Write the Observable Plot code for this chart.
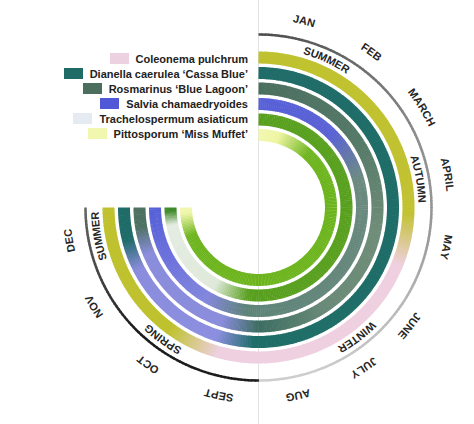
<!DOCTYPE html>
<html><head><meta charset="utf-8">
<script src="https://cdn.jsdelivr.net/npm/d3@7"></script>
<script src="https://cdn.jsdelivr.net/npm/@observablehq/plot@0.6"></script>
<style>
body{margin:0;background:#fff;}
#wrap{position:relative;width:474px;height:424px;font-family:"Liberation Sans",Arial,sans-serif;}
#legend{position:absolute;right:226px;top:51px;font-weight:bold;font-size:11px;color:#222;}
.row{display:flex;justify-content:flex-end;align-items:center;height:15px;white-space:nowrap;}
.sw{width:19px;height:11px;margin-right:7px;}
</style></head><body>
<div id="wrap"><div id="chart"></div><div id="legend"></div></div>
<script>
// ---- data ----
const months = ["JAN","FEB","MARCH","APRIL","MAY","JUNE","JULY","AUG","SEPT","OCT","NOV","DEC"];
const monthLabelPos = [0.61, 1.6, 2.6, 3.56, 4.53, 5.69, 6.52, 7.47, 8.53, 9.56, 10.62, 11.56]; // in months from Jan start
const seasons = ["SUMMER","AUTUMN","WINTER","SPRING","SUMMER"];
const seasonPos = [1.1, 3.55, 6.35, 9.6, 11.55];
const species = ["Coleonema pulchrum","Dianella caerulea \u2018Cassa Blue\u2019","Rosmarinus \u2018Blue Lagoon\u2019","Salvia chamaedryoides","Trachelospermum asiaticum","Pittosporum \u2018Miss Muffet\u2019"];
const swatchColors = ["#ecd2e0","#1f6c66","#4c6e5e","#5058d8","#e6ebf2","#f2f7b0"];
// colour stops along the year [month position, colour]
const coleonemaStops = [[0,"#bfc22e"],[4.1,"#c2c232"],[5.0,"#efd0e0"],[8.7,"#eed0e0"],[9.6,"#bfc22e"],[12,"#bfc22e"]];
const dianellaStops = [[0,"#1f6c68"],[8.1,"#1f6e68"],[8.8,"#8c8ee0"],[10.8,"#8a8cdc"],[11.4,"#1f6c68"],[12,"#1f6c68"]];
const rosmarinusStops = [[0,"#4b6f5f"],[2.5,"#557968"],[4.5,"#6f8d78"],[6.5,"#6a8a78"],[8.0,"#3d6e62"],[8.8,"#8a8cdc"],[11.0,"#8a8cdc"],[11.6,"#4d7262"],[12,"#4d7262"]];
const salviaStops = [[0,"#5860d8"],[2.0,"#5a62d4"],[3.3,"#6c8a80"],[8.3,"#5e8478"],[9.3,"#8286dc"],[10.8,"#6a70dc"],[12,"#5560d6"]];
const trachelospermumStops = [[0,"#58a01e"],[8.3,"#58a01e"],[9.3,"#dfe9da"],[11.5,"#e4ece2"],[11.9,"#3f8a2a"],[12,"#3f8a2a"]];
const pittosporumStops = [[0,"#f2f7b0"],[0.7,"#eef5a0"],[1.9,"#6cb41c"],[11.0,"#6cb41c"],[11.8,"#eef5a8"],[12,"#f2f7b0"]];
const monthRingStops = [[0,"#4a4a4a"],[1.5,"#6a6a6a"],[3,"#8e8e8e"],[4.5,"#9a9a9a"],[5.5,"#b8b8b8"],[7,"#cccccc"],[8,"#cfcfcf"],[8.001,"#1c1c1c"],[10,"#1c1c1c"],[11,"#444444"],[12,"#666666"]];
const ringStops = [coleonemaStops, dianellaStops, rosmarinusStops, salviaStops, trachelospermumStops, pittosporumStops];

// ---- geometry helpers ----
const FONT = "Liberation Sans";
const LABEL_SIZE = 11;
const toRad = m => m / 12 * 1.5 * Math.PI;
const px = (r, m) => r * Math.sin(toRad(m));
const py = (r, m) => r * Math.cos(toRad(m));
function colorAt(stops, m) {
  for (let i = 0; i < stops.length - 1; i++) {
    const [a, ca] = stops[i], [b, cb] = stops[i + 1];
    if (m >= a && m <= b) return d3.interpolateRgb(ca, cb)(b === a ? 0 : (m - a) / (b - a));
  }
  return stops[stops.length - 1][1];
}
function arcSegments(stops, r) {
  const out = [], step = 0.05;
  for (let m = 0; m < 12 - 1e-9; m += step) {
    const a0 = Math.max(0, m - 0.006), a1 = Math.min(12, m + step + 0.006);
    out.push({x1: px(r, a0), y1: py(r, a0), x2: px(r, a1), y2: py(r, a1), c: colorAt(stops, m + step / 2)});
  }
  return out;
}
const segs = [];
ringStops.forEach((s, k) => segs.push(...arcSegments(s, 150 - 15.5 * k)));
const monthSegs = arcSegments(monthRingStops, 173);

// curved text: place each character along the arc
const ctx = document.createElement("canvas").getContext("2d");
ctx.font = `bold ${LABEL_SIZE}px "${FONT}"`;
function curvedChars(label, m, r, spacing) {
  const ws = [...label].map(ch => ctx.measureText(ch).width + spacing);
  const total = d3.sum(ws) - spacing;
  let acc = -total / 2;
  const thetaC = toRad(m);
  return [...label].map((ch, i) => {
    const s = acc + (ws[i] - spacing) / 2; acc += ws[i];
    const th = thetaC + s / r;
    return {x: r * Math.sin(th), y: r * Math.cos(th), t: ch, rot: th * 180 / Math.PI};
  });
}
const monthChars = months.flatMap((mo, i) => curvedChars(mo, monthLabelPos[i], 192, 0.2));
const seasonChars = seasons.flatMap((s, i) => curvedChars(s, seasonPos[i], 163.5, 0.1));

const chart = Plot.plot({
  width: 474, height: 424, margin: 0,
  x: {domain: [-258, 216], axis: null},
  y: {domain: [-217, 207], axis: null},
  color: {type: "identity"},
  marks: [
    Plot.ruleX([0], {stroke: "#e2e2e2", strokeWidth: 1}),
    Plot.link(segs, {x1: "x1", y1: "y1", x2: "x2", y2: "y2", stroke: "c", strokeWidth: 12, strokeLinecap: "butt"}),
    Plot.link(monthSegs, {x1: "x1", y1: "y1", x2: "x2", y2: "y2", stroke: "c", strokeWidth: 2.5, strokeLinecap: "butt"}),
    Plot.text(monthChars, {x: "x", y: "y", text: "t", rotate: "rot", fontSize: LABEL_SIZE, fontWeight: "bold", fill: "#262626", fontFamily: FONT}),
    Plot.text(seasonChars, {x: "x", y: "y", text: "t", rotate: "rot", fontSize: LABEL_SIZE, fontWeight: "bold", fill: "#262626", fontFamily: FONT})
  ]
});
document.getElementById("chart").appendChild(chart);

const legend = document.getElementById("legend");
species.forEach((name, i) => {
  const row = document.createElement("div"); row.className = "row";
  const sw = document.createElement("span"); sw.className = "sw"; sw.style.background = swatchColors[i];
  const tx = document.createElement("span"); tx.textContent = name;
  row.appendChild(sw); row.appendChild(tx); legend.appendChild(row);
});
</script></body></html>
